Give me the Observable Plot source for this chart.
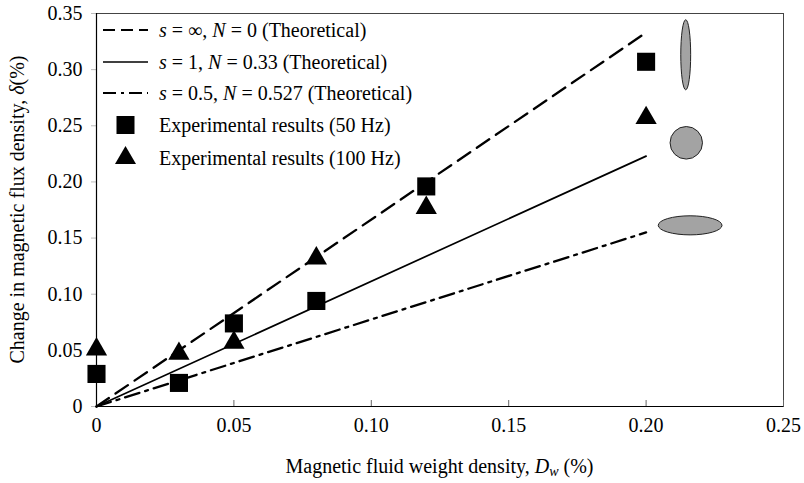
<!DOCTYPE html>
<html>
<head>
<meta charset="utf-8">
<script src="https://cdn.jsdelivr.net/npm/d3@7"></script>
<script src="https://cdn.jsdelivr.net/npm/@observablehq/plot@0.6"></script>
<style>
  html, body { margin: 0; padding: 0; background: #fff; }
</style>
</head>
<body>
<div id="chart"></div>
<script>
// ---- data ----
const xTheory = [0, 0.2];
const theoryInf = [0, 0.333];   // s = ∞, N = 0
const theoryOne = [0, 0.223];   // s = 1, N = 0.33
const theoryHalf = [0, 0.155];  // s = 0.5, N = 0.527

const xExp = [0, 0.03, 0.05, 0.08, 0.12, 0.2];
const exp50 = [0.029, 0.021, 0.074, 0.094, 0.196, 0.307];
const exp100 = [0.051, 0.047, 0.057, 0.132, 0.177, 0.257];

const xTicks = [0, 0.05, 0.10, 0.15, 0.20, 0.25];
const yTicks = [0, 0.05, 0.10, 0.15, 0.20, 0.25, 0.30, 0.35];

// particle shape icons (data coordinates: centre and semi-axes)
const shapeCx = [0.2146, 0.2148, 0.2162];
const shapeCy = [0.3128, 0.2344, 0.1609];
const shapeRx = [0.0018, 0.0059, 0.0116];
const shapeRy = [0.0312, 0.0145, 0.0085];

const legendLabels = [
  [["s", true], [" = ∞, ", false], ["N", true], [" = 0 (Theoretical)", false]],
  [["s", true], [" = 1, ", false], ["N", true], [" = 0.33 (Theoretical)", false]],
  [["s", true], [" = 0.5, ", false], ["N", true], [" = 0.527 (Theoretical)", false]],
  [["Experimental results (50 Hz)", false]],
  [["Experimental results (100 Hz)", false]]
];
const legendKinds = ["dash", "solid", "dashdot", "square", "triangle"];

// ---- build tables ----
const lineInf = xTheory.map((x, i) => ({x, y: theoryInf[i]}));
const lineOne = xTheory.map((x, i) => ({x, y: theoryOne[i]}));
const lineHalf = xTheory.map((x, i) => ({x, y: theoryHalf[i]}));
const pts50 = xExp.map((x, i) => ({x, y: exp50[i]}));
const pts100 = xExp.map((x, i) => ({x, y: exp100[i]}));
const shapes = shapeCx.map((cx, i) => ({cx, cy: shapeCy[i], rx: shapeRx[i], ry: shapeRy[i]}));

const fmt = d => d === 0 ? "0" : d.toFixed(2);
const DASH = "15,8";
const DASHDOT = "15,6,3,6";

const W = 804, H = 483, ML = 96, MR = 21, MT = 13, MB = 77;

function shapesMark(index, scales) {
  const g = d3.create("svg:g");
  for (const s of shapes) {
    const cx = scales.x(s.cx), cy = scales.y(s.cy);
    g.append("ellipse")
      .attr("cx", cx).attr("cy", cy)
      .attr("rx", Math.abs(scales.x(s.cx + s.rx) - cx))
      .attr("ry", Math.abs(scales.y(s.cy + s.ry) - cy))
      .attr("fill", "#a3a3a3").attr("stroke", "#222").attr("stroke-width", 1);
  }
  return g.node();
}

function legendMark(index, scales) {
  const g = d3.create("svg:g").attr("text-anchor", "start");
  const left = scales.x(0);
  const x0 = left + 7, x1 = left + 52, tx = left + 63;
  const rowY = [30, 62, 93, 125, 158];
  legendKinds.forEach((k, i) => {
    const y = rowY[i];
    if (k === "dash" || k === "solid" || k === "dashdot") {
      g.append("line").attr("x1", x0).attr("x2", x1).attr("y1", y).attr("y2", y)
        .attr("stroke", "black")
        .attr("stroke-width", k === "solid" ? 1.6 : 2.2)
        .attr("stroke-dasharray", k === "dash" ? "12,6" : k === "dashdot" ? "13,5,3,5" : null);
    } else if (k === "square") {
      g.append("rect").attr("x", (x0 + x1) / 2 - 9).attr("y", y - 9)
        .attr("width", 18).attr("height", 18).attr("fill", "black");
    } else {
      const cx = (x0 + x1) / 2;
      g.append("path").attr("d", `M${cx},${y - 12}L${cx + 10.5},${y + 6}L${cx - 10.5},${y + 6}Z`)
        .attr("fill", "black");
    }
    const t = g.append("text").attr("x", tx).attr("y", y).attr("dy", "0.35em")
      .attr("text-anchor", "start")
      .attr("font-family", "Liberation Serif").attr("font-size", 20).attr("fill", "black");
    for (const [s, it] of legendLabels[i]) {
      t.append("tspan").attr("font-style", it ? "italic" : null).text(s);
    }
  });
  return g.node();
}

function axisLabels(index, scales) {
  const g = d3.create("svg:g")
    .attr("font-family", "Liberation Serif").attr("font-size", 20).attr("fill", "black");
  const cxPlot = (scales.x(0) + scales.x(0.25)) / 2;
  const cyPlot = (scales.y(0) + scales.y(0.35)) / 2;
  const tx = g.append("text").attr("x", cxPlot).attr("y", 473).attr("text-anchor", "middle");
  tx.append("tspan").text("Magnetic fluid weight density, ");
  tx.append("tspan").attr("font-style", "italic").text("D");
  tx.append("tspan").attr("font-style", "italic").attr("font-size", 14).attr("dy", 3).text("w");
  tx.append("tspan").attr("dy", -3).text(" (%)");
  const ty = g.append("text")
    .attr("transform", `translate(24,${cyPlot}) rotate(-90)`)
    .attr("text-anchor", "middle");
  ty.append("tspan").text("Change in magnetic flux density, ");
  ty.append("tspan").attr("font-style", "italic").text("δ");
  ty.append("tspan").text("(%)");
  return g.node();
}

const chart = Plot.plot({
  width: W, height: H,
  marginLeft: ML, marginRight: MR, marginTop: MT, marginBottom: MB,
  style: {fontFamily: "Liberation Serif", fontSize: "20px", color: "black", background: "white", overflow: "visible"},
  x: {domain: [0, 0.25], label: null},
  y: {domain: [0, 0.35], label: null},
  marks: [
    Plot.frame({stroke: "#444"}),
    Plot.axisX({ticks: xTicks, tickFormat: fmt, tickSize: -6, tickPadding: 17, label: null, stroke: "#666"}),
    Plot.axisY({ticks: yTicks, tickFormat: fmt, tickSize: 5, tickPadding: 9, label: null, stroke: "#bbb"}),
    Plot.ruleX([0], {stroke: "black", strokeWidth: 1.2}),
    Plot.ruleY([0], {stroke: "black", strokeWidth: 1.2}),
    Plot.line(lineInf, {x: "x", y: "y", stroke: "black", strokeWidth: 2.3, strokeDasharray: DASH}),
    Plot.line(lineOne, {x: "x", y: "y", stroke: "black", strokeWidth: 1.7}),
    Plot.line(lineHalf, {x: "x", y: "y", stroke: "black", strokeWidth: 2.3, strokeDasharray: DASHDOT}),
    Plot.dot(pts50, {x: "x", y: "y", symbol: "square", r: 10.2, fill: "black", stroke: "none"}),
    Plot.dot(pts100, {x: "x", y: "y", symbol: "triangle", r: 7.9, fill: "black", stroke: "none"}),
    shapesMark,
    legendMark,
    axisLabels
  ]
});
document.getElementById("chart").appendChild(chart);
</script>
</body>
</html>
